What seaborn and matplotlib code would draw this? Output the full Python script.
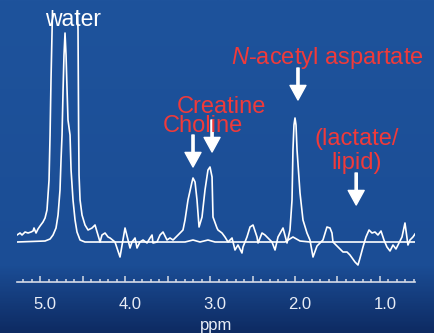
import numpy as np
import seaborn as sns
import matplotlib.pyplot as plt
from matplotlib.colors import LinearSegmentedColormap
from matplotlib.ticker import FixedLocator, FuncFormatter
from matplotlib.transforms import ScaledTranslation

plt.rcParams['font.family'] = ['Liberation Sans', 'DejaVu Sans']
plt.rcParams['mathtext.fontset'] = 'custom'
plt.rcParams['mathtext.rm'] = 'Liberation Sans'
plt.rcParams['mathtext.it'] = 'Liberation Sans:italic'

# spectrum with metabolites (water partly suppressed, noisy)
metab_ppm = [5.271, 5.235, 5.212, 5.176, 5.141, 5.106, 5.082, 5.071, 5.047, 5.024, 5.000,
             4.965, 4.941, 4.918, 4.894, 4.882, 4.871, 4.859, 4.853, 4.706, 4.559, 4.553,
             4.550, 4.546, 4.541, 4.529, 4.506, 4.471, 4.435, 4.388, 4.353, 4.318, 4.294,
             4.271, 4.235, 4.200, 4.176, 4.118, 4.059, 4.000, 3.941, 3.918, 3.882, 3.859,
             3.824, 3.788, 3.741, 3.706, 3.682, 3.671, 3.624, 3.588, 3.553, 3.506, 3.471,
             3.435, 3.412, 3.376, 3.318, 3.294, 3.259, 3.212, 3.200, 3.176, 3.153, 3.129,
             3.094, 3.059, 3.024, 3.000, 2.976, 2.965, 2.918, 2.906, 2.859, 2.824, 2.788,
             2.741, 2.706, 2.671, 2.624, 2.612, 2.565, 2.529, 2.494, 2.447, 2.435, 2.388,
             2.353, 2.318, 2.271, 2.235, 2.200, 2.141, 2.094, 2.059, 2.035, 2.024, 2.012,
             2.000, 1.988, 1.976, 1.941, 1.906, 1.859, 1.824, 1.788, 1.741, 1.706, 1.671,
             1.624, 1.588, 1.565, 1.553, 1.494, 1.435, 1.388, 1.353, 1.294, 1.259, 1.235,
             1.200, 1.165, 1.129, 1.094, 1.059, 1.024, 0.988, 0.953, 0.918, 0.882, 0.847,
             0.812, 0.776, 0.741, 0.706, 0.671, 0.647, 0.612, 0.588]
metab_amp = [7, 9, 7, 10, 9, 10, 11, 14, 9, 13, 16,
             20, 24, 32, 62, 107, 162, 212, 232, 322, 232, 212,
             162, 112, 67, 42, 27, 17, 12, 14, 17, 7, 0,
             7, 9, 5, 4, 0, -15, 14, -6, 0, 4, -6,
             0, 2, -1, 4, 7, -1, 0, 7, 10, 2, 4,
             2, 4, 7, 12, 22, 42, 60, 64, 60, 42, 15,
             25, 52, 72, 75, 65, 25, 14, 12, 9, 5, 0,
             4, -8, -3, -11, -5, 5, 15, 17, 5, -1, 9,
             7, 4, 0, -8, 5, 14, -1, 12, 42, 92, 117,
             124, 117, 92, 49, 22, 9, 2, -15, -4, -1, 2,
             15, 14, 9, 0, -5, -10, -10, -13, -20, -23, -16,
             -5, 5, 12, 9, 10, 7, 11, 2, -5, -9, -3,
             -7, -1, 5, 19, -3, 2, 5, 8]

# unsuppressed water spectrum (smooth)
water_ppm = [5.271, 4.941, 4.882, 4.847, 4.812, 4.788, 4.765, 4.753, 4.741, 4.729, 4.718,
             4.706, 4.694, 4.682, 4.671, 4.647, 4.635, 4.612, 4.588, 4.565, 4.529, 4.471,
             3.294, 3.200, 3.118, 3.024, 2.941, 2.118, 2.024, 1.941, 1.824, 0.588]
water_amp = [0, 1, 3, 7, 14, 27, 52, 82, 107, 152, 187,
             209, 187, 152, 122, 107, 72, 42, 22, 10, 2, 0,
             0, 2, 0, 2, 0, 0, 5, 1, 0, 0]

major_ticks = [5.0, 4.5, 4.0, 3.5, 3.0, 2.5, 2.0, 1.5, 1.0]
minor_ticks = [round(0.6 + 0.1 * i, 1) for i in range(47)]

peak_labels = ['Choline', 'Creatine', 'N-acetyl aspartate', 'lactate/lipid']
arrow_ppm = [3.20, 2.976, 1.965, 1.28]
arrow_tail = [107, 122, 174, 69]
arrow_tip = [75, 90, 142, 37]

W, H = 435, 333
fig = plt.figure(figsize=(W / 100, H / 100), dpi=100)

# background
bg = fig.add_axes([0, 0, 1, 1])
cmap = LinearSegmentedColormap.from_list('bg', [(0, '#1e539c'), (0.8, '#1b4d95'), (1, '#0e2b63')])
bg.imshow(np.linspace(0, 1, 200).reshape(-1, 1), aspect='auto', cmap=cmap, extent=[0, 1, 0, 1])
bg.axis('off')

ax = fig.add_axes([17 / W, 51 / H, 398 / W, 272 / H])
ax.patch.set_alpha(0)

sns.lineplot(x=water_ppm, y=water_amp, ax=ax, color='white', lw=1.2, sort=False, estimator=None)
sns.lineplot(x=metab_ppm, y=metab_amp, ax=ax, color='white', lw=1.2, sort=False, estimator=None)

ax.set_xlim(5.271, 0.588)
ax.set_ylim(-40, 232)

for s in ['top', 'left', 'right']:
    ax.spines[s].set_visible(False)
ax.spines['bottom'].set_color('#d5dbe6')
ax.spines['bottom'].set_linewidth(1.2)
ax.set_yticks([])
ax.xaxis.set_major_locator(FixedLocator(major_ticks))
ax.xaxis.set_minor_locator(FixedLocator(minor_ticks))
ax.xaxis.set_major_formatter(FuncFormatter(lambda v, p: f'{v:.1f}' if v == int(v) else ''))
ax.tick_params(axis='x', which='both', direction='in', colors='#d5dbe6', width=1.1)
ax.tick_params(axis='x', which='major', length=4, pad=11, labelsize=12, labelcolor='#e8edf6')
ax.tick_params(axis='x', which='minor', length=2.2)
shift = ScaledTranslation(5 / 100, 0, fig.dpi_scale_trans)
for lbl in ax.xaxis.get_majorticklabels():
    lbl.set_transform(lbl.get_transform() + shift)
ax.set_xlabel('ppm', fontsize=12, color='#e8edf6', labelpad=4)

red = '#f03a3a'
fig.text(73 / W, 1 - 20 / H, 'water', color='white', fontsize=16.5, ha='center', va='center')
fig.text(203 / W, 1 - 126 / H, peak_labels[0], color=red, fontsize=17, ha='center', va='center')
fig.text(221 / W, 1 - 107 / H, peak_labels[1], color=red, fontsize=17, ha='center', va='center')
fig.text(327 / W, 1 - 58 / H, '$N$-acetyl aspartate', color=red, fontsize=17, ha='center', va='center')
fig.text(357 / W, 1 - 151 / H, '(lactate/\nlipid)', color=red, fontsize=17, ha='center', va='center',
         linespacing=1.1)

for p, t0, t1 in zip(arrow_ppm, arrow_tail, arrow_tip):
    ax.annotate('', xy=(p, t1), xytext=(p, t0), annotation_clip=False,
                arrowprops=dict(facecolor='white', edgecolor='white', width=1.6,
                                headwidth=11.5, headlength=10.5, shrink=0))

fig.savefig('out.png', dpi=100)
